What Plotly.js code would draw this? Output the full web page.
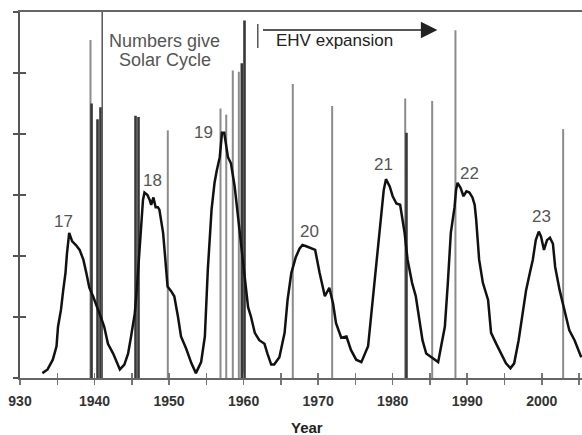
<!DOCTYPE html>
<html>
<head>
<meta charset="utf-8">
<script src="https://cdn.plot.ly/plotly-3.0.1.min.js"></script>
<style>html,body{margin:0;padding:0;background:#fff;}#chart{width:582px;height:435px;}</style>
</head>
<body>
<div id="chart"></div>
<script>
// Smoothed sunspot number
var sunYears = [1933.0,1933.7,1934.4,1934.9,1935.1,1935.5,1935.8,1936.1,1936.3,1936.6,1937.0,1937.5,1938.0,1938.5,1938.9,1939.3,1939.8,1940.3,1940.9,1941.3,1941.8,1942.5,1943.0,1943.4,1944.0,1944.5,1944.9,1945.4,1945.7,1946.0,1946.3,1946.5,1946.7,1947.1,1947.4,1947.6,1947.9,1948.2,1948.5,1948.7,1949.2,1949.5,1949.8,1950.3,1950.7,1951.2,1951.6,1952.3,1953.0,1953.6,1954.3,1954.8,1955.2,1955.7,1956.1,1956.4,1956.8,1957.1,1957.4,1957.9,1958.3,1958.8,1959.2,1959.7,1960.1,1960.6,1961.0,1961.5,1962.1,1962.8,1963.2,1963.7,1964.1,1964.8,1965.5,1965.9,1966.4,1967.0,1967.5,1967.9,1968.4,1969.1,1969.6,1970.2,1970.9,1971.5,1972.0,1972.4,1973.1,1973.8,1974.4,1975.1,1975.8,1976.7,1977.3,1978.0,1978.5,1978.8,1979.1,1979.6,1980.0,1980.5,1981.0,1981.6,1982.0,1982.6,1983.1,1983.6,1984.0,1984.5,1985.4,1986.1,1986.5,1987.0,1987.4,1987.8,1988.3,1988.5,1988.7,1989.1,1989.5,1989.9,1990.3,1990.7,1991.0,1991.2,1991.6,1992.1,1992.8,1993.2,1993.9,1994.6,1995.2,1995.8,1996.3,1996.9,1997.5,1997.9,1998.4,1998.8,1999.2,1999.6,1999.9,2000.3,2000.7,2001.1,2001.5,2001.8,2002.4,2003.1,2003.7,2004.4,2005.1,2005.3];
var sunValues = [4,7,15,26,42,56,72,86,102,119,112,109,105,97,86,74,67,58,49,42,28,20,12,7,11,20,34,53,75,105,130,146,152,150,146,142,148,140,140,138,119,97,75,71,67,50,34,24,12,4,13,34,89,138,160,170,181,201,201,181,176,157,135,113,86,58,50,37,31,28,20,11,11,17,37,64,86,99,106,109,108,106,105,86,67,74,61,45,33,34,23,15,13,26,64,108,138,154,163,157,149,143,142,119,97,78,67,47,31,20,16,13,26,42,78,119,140,154,160,156,149,153,152,148,142,130,97,78,64,37,28,20,12,8,12,31,56,72,86,97,113,120,116,105,113,115,110,91,72,53,39,31,20,17];

// Storm events (vertical lines)
var lightYears  = [1939.46,1949.83,1956.9,1957.67,1958.55,1959.36,1966.6,1971.88,1981.68,1985.3,1988.42,2002.87];
var lightValues = [277,203,221,216,252,251,241,223,229,227,285,204];
var darkYears   = [1939.6,1940.4,1940.8,1945.5,1945.9,1959.76,1960.12,1981.85];
var darkValues  = [225,212,222,215,214,258,293,201];
var thinYears   = [1941.03];
var thinValues  = [300];

// Solar cycle labels
var cycleNumbers = ['17','18','19','20','21','22','23'];

// Axis ticks
var tickYears  = [1930,1935,1940,1945,1950,1955,1960,1965,1970,1975,1980,1985,1990,1995,2000,2005];
var tickLabels = ['930','','1940','','1950','','1960','','1970','','1980','','1990','','2000',''];
var yTicks = [0,50,100,150,200,250,300];

function stems(xs, ys) {
  var x = [], y = [];
  for (var i = 0; i < xs.length; i++) { x.push(xs[i], xs[i], null); y.push(0, ys[i], null); }
  return {x: x, y: y};
}
var L = stems(lightYears, lightValues), D = stems(darkYears, darkValues), T = stems(thinYears, thinValues);

var traces = [
  {x: L.x, y: L.y, mode: 'lines', line: {color: '#8c8c8c', width: 2}, hoverinfo: 'skip', showlegend: false},
  {x: D.x, y: D.y, mode: 'lines', line: {color: '#383838', width: 2.6}, hoverinfo: 'skip', showlegend: false},
  {x: T.x, y: T.y, mode: 'lines', line: {color: '#555555', width: 1.5}, hoverinfo: 'skip', showlegend: false},
  {x: sunYears, y: sunValues, mode: 'lines', line: {color: '#111111', width: 2.5}, hoverinfo: 'skip', showlegend: false}
];

var cyclePos = [[1935.84,128],[1947.78,162],[1954.62,201],[1968.84,120],[1978.77,175],[1990.3,168],[1999.96,132]];
var annotations = cycleNumbers.map(function (c, i) {
  return {x: cyclePos[i][0], y: cyclePos[i][1], xref: 'x', yref: 'y', text: c, showarrow: false,
          font: {family: 'Liberation Sans, Arial, sans-serif', size: 17, color: '#555555'}};
});
annotations.push(
  {x: 1949.4, y: 276.5, xref: 'x', yref: 'y', text: 'Numbers give', showarrow: false,
   font: {family: 'Liberation Sans, Arial, sans-serif', size: 18, color: '#555555'}},
  {x: 1949.4, y: 261, xref: 'x', yref: 'y', text: 'Solar Cycle', showarrow: false,
   font: {family: 'Liberation Sans, Arial, sans-serif', size: 18, color: '#555555'}},
  {x: 1972.13, y: 276.5, xref: 'x', yref: 'y', text: 'EHV expansion', showarrow: false,
   font: {family: 'Liberation Sans, Arial, sans-serif', size: 17, color: '#222222'}},
  {x: 1986.0, y: 285.3, ax: 1962.4, ay: 285.3, xref: 'x', yref: 'y', axref: 'x', ayref: 'y', text: '',
   showarrow: true, arrowhead: 2, arrowsize: 2.2, arrowwidth: 1.5, arrowcolor: '#222222'},
  {x: (307 - 20) / 562, y: -0.135, xref: 'paper', yref: 'paper', text: '<b>Year</b>', showarrow: false,
   yanchor: 'middle', font: {family: 'Liberation Sans, Arial, sans-serif', size: 15, color: '#222222'}}
);

var shapes = [
  {type: 'line', xref: 'x', yref: 'y', x0: 1961.9, x1: 1961.9, y0: 270.5, y1: 290.2,
   line: {color: '#555555', width: 1.5}}
];

var baseX = {range: [1930, 2005.4], showgrid: false, zeroline: false, fixedrange: true};
var baseY = {range: [0, 300], showgrid: false, zeroline: false, fixedrange: true};

var layout = {
  width: 582, height: 435,
  margin: {l: 20, r: 0, t: 12, b: 57, pad: 0},
  paper_bgcolor: '#ffffff', plot_bgcolor: '#ffffff',
  showlegend: false,
  xaxis: Object.assign({}, baseX, {
    showline: true, linecolor: '#666666', linewidth: 2, mirror: true,
    ticks: 'outside', ticklen: 5, tickwidth: 1.5, tickcolor: '#777777',
    tickmode: 'array', tickvals: tickYears, ticktext: tickLabels,
    ticklabelstandoff: 4,
    tickfont: {family: 'Liberation Sans, Arial, sans-serif', size: 14, color: '#333333', weight: 'bold'}
  }),
  xaxis2: Object.assign({}, baseX, {
    overlaying: 'x', anchor: 'y', side: 'bottom', showline: false,
    ticks: 'inside', ticklen: 5, tickwidth: 1.5, tickcolor: '#777777',
    tickmode: 'array', tickvals: tickYears, showticklabels: false
  }),
  yaxis: Object.assign({}, baseY, {
    showline: true, linecolor: '#555555', linewidth: 2,
    ticks: 'outside', ticklen: 5, tickwidth: 2, tickcolor: '#555555',
    tickmode: 'array', tickvals: yTicks, showticklabels: false
  }),
  yaxis2: Object.assign({}, baseY, {
    overlaying: 'y', anchor: 'x', side: 'left', showline: false,
    ticks: 'inside', ticklen: 6, tickwidth: 2, tickcolor: '#555555',
    tickmode: 'array', tickvals: yTicks, showticklabels: false
  }),
  annotations: annotations,
  shapes: shapes
};

traces.push({x: [1930], y: [0], xaxis: 'x2', yaxis: 'y2', mode: 'markers', marker: {opacity: 0}, hoverinfo: 'skip', showlegend: false});

Plotly.newPlot('chart', traces, layout, {staticPlot: true, displayModeBar: false});
</script>
</body>
</html>
